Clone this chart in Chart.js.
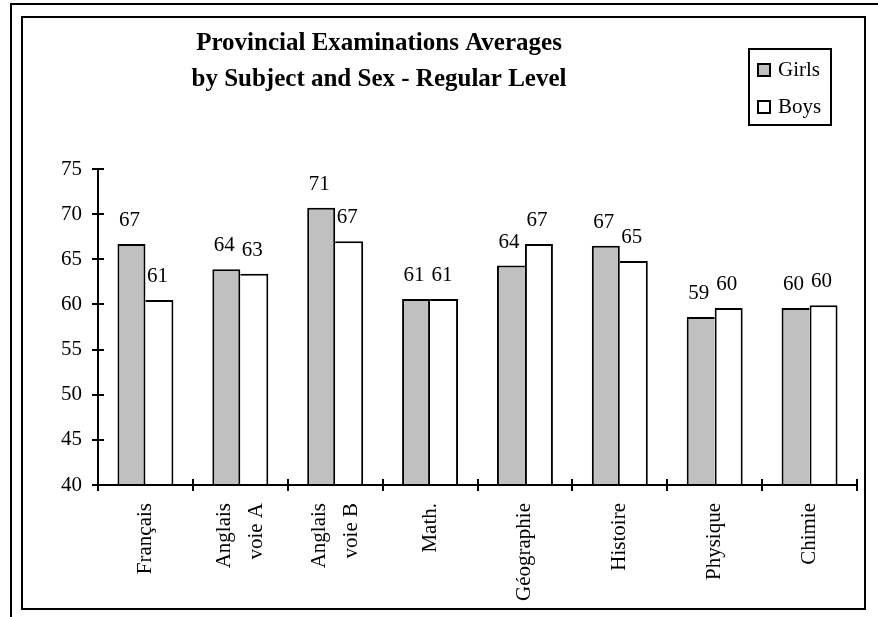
<!DOCTYPE html>
<html>
<head>
<meta charset="utf-8">
<script src="https://cdn.jsdelivr.net/npm/chart.js@4.4.1/dist/chart.umd.min.js"></script>
<style>
  html, body { margin: 0; padding: 0; background: #fff; }
  #wrap { position: relative; width: 878px; height: 617px; overflow: hidden; }
  #outer { position: absolute; left: 10px; top: 3px; width: 900px; height: 700px; border-top: 2px solid #000; border-left: 2px solid #000; }
  #inner { position: absolute; left: 21px; top: 16px; width: 841px; height: 590px; border: 2px solid #000; }
  canvas { position: absolute; left: 0; top: 0; }
</style>
</head>
<body>
<div id="wrap">
  <div id="outer"></div>
  <div id="inner"></div>
  <canvas id="chart" width="878" height="617"></canvas>
</div>
<script>
// données
const subjects = [['Français'], ['Anglais', 'voie A'], ['Anglais', 'voie B'], ['Math.'],
                  ['Géographie'], ['Histoire'], ['Physique'], ['Chimie']];
const girls = [66.7, 63.9, 70.7, 60.6, 64.3, 66.5, 58.6, 59.6];
const boys  = [60.5, 63.4, 67.0, 60.6, 66.7, 64.8, 59.6, 59.9];
const seriesNames = ['Girls', 'Boys'];
const yMin = 40, yMax = 75, yStep = 5;
const titleLines = ['Provincial Examinations Averages', 'by Subject and Sex - Regular Level'];

const FONT = 'Liberation Serif';

// le trait commun entre deux barres est porté par la plus haute
function girlsBorder(ctx) {
    const i = ctx.dataIndex;
    return { top: 2, left: 2, right: girls[i] >= boys[i] ? 2 : 0, bottom: 0 };
}
function boysBorder(ctx) {
    const i = ctx.dataIndex;
    return { top: 2, left: boys[i] > girls[i] ? 2 : 0, right: 2, bottom: 0 };
}

// étiquettes verticales : une ligne vide devant les libellés simples,
// et une hauteur de ligne moitié moindre, pour les garder centrés
function subjectLabel(value, i) {
    return subjects[i].length > 1 ? subjects[i] : ['', subjects[i][0]];
}
function subjectFont(ctx) {
    const two = ctx.index !== undefined && subjects[ctx.index] && subjects[ctx.index].length > 1;
    return { family: FONT, size: 21, lineHeight: two ? '32px' : '16px' };
}

// titre, légende, valeurs et demi-graduations intérieures
const decorPlugin = {
    id: 'decor',
    afterDraw(chart) {
        const ctx = chart.ctx;
        const area = chart.chartArea;
        const xs = chart.scales.x;
        const ys = chart.scales.y;
        ctx.save();
        ctx.strokeStyle = '#000';
        ctx.lineWidth = 2;

        // graduations qui traversent l'axe
        ctx.beginPath();
        ys.ticks.forEach((t, i) => {
            const y = Math.round(ys.getPixelForTick(i));
            ctx.moveTo(area.left, y);
            ctx.lineTo(area.left + 6, y);
        });
        const step = xs.getPixelForValue(1) - xs.getPixelForValue(0);
        for (let i = 0; i <= subjects.length; i++) {
            const x = Math.round(xs.getPixelForValue(0) - step / 2 + i * step);
            ctx.moveTo(x, area.bottom);
            ctx.lineTo(x, area.bottom - 6);
        }
        ctx.stroke();

        // valeurs au-dessus des barres
        ctx.fillStyle = '#000';
        ctx.font = '21px "' + FONT + '"';
        ctx.textAlign = 'center';
        ctx.textBaseline = 'alphabetic';
        chart.data.datasets.forEach((ds, d) => {
            chart.getDatasetMeta(d).data.forEach((bar, i) => {
                ctx.fillText(String(Math.round(ds.data[i])), bar.x - 2, bar.y - 18);
            });
        });

        // titre
        ctx.font = 'bold 25px "' + FONT + '"';
        ctx.textBaseline = 'middle';
        titleLines.forEach((line, i) => {
            ctx.fillText(line, 379, 44 + i * 36);
        });

        // légende encadrée
        ctx.strokeRect(749, 49, 82, 76);
        ctx.font = '21px "' + FONT + '"';
        ctx.textAlign = 'left';
        chart.data.datasets.forEach((ds, d) => {
            const y = 64 + d * 37;
            ctx.fillStyle = ds.backgroundColor;
            ctx.fillRect(758, y, 12, 12);
            ctx.strokeRect(758, y, 12, 12);
            ctx.fillStyle = '#000';
            ctx.fillText(ds.label, 778, y + 6);
        });
        ctx.restore();
    }
};

new Chart(document.getElementById('chart'), {
    type: 'bar',
    data: {
        labels: subjects,
        datasets: [
            { label: seriesNames[0], data: girls, backgroundColor: '#c0c0c0', borderColor: '#000', borderWidth: girlsBorder },
            { label: seriesNames[1], data: boys, backgroundColor: '#ffffff', borderColor: '#000', borderWidth: boysBorder }
        ]
    },
    options: {
        responsive: false,
        animation: false,
        devicePixelRatio: 1,
        categoryPercentage: 0.59,
        barPercentage: 1,
        layout: { padding: { top: 169, right: 21, left: 0, bottom: 0 } },
        plugins: {
            legend: { display: false },
            title: { display: false },
            tooltip: { enabled: false }
        },
        scales: {
            x: {
                grid: { offset: true, drawOnChartArea: false, color: '#000', lineWidth: 2, tickLength: 6, z: 1 },
                border: { color: '#000', width: 2, z: 1 },
                ticks: {
                    color: '#000', font: subjectFont, callback: subjectLabel,
                    maxRotation: 90, minRotation: 90, padding: 12, labelOffset: -16, autoSkip: false
                },
                afterFit: s => { s.height = 132; }
            },
            y: {
                min: yMin,
                max: yMax,
                grid: { drawOnChartArea: false, color: '#000', lineWidth: 2, tickLength: 6, z: 1 },
                border: { color: '#000', width: 2, z: 1 },
                ticks: { stepSize: yStep, color: '#000', font: { family: FONT, size: 21 }, padding: 10 },
                afterFit: s => { s.width = 98; }
            }
        }
    },
    plugins: [decorPlugin]
});
</script>
</body>
</html>
